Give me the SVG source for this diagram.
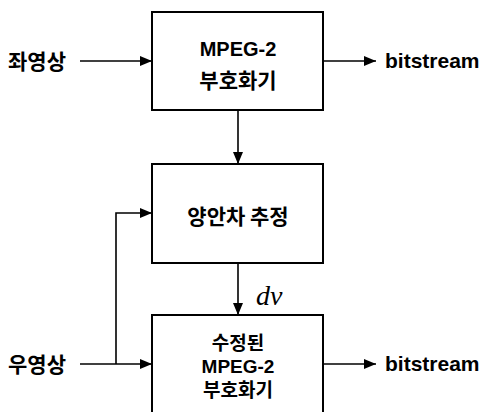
<svg xmlns="http://www.w3.org/2000/svg" width="480" height="412" viewBox="0 0 480 412">
  <defs>
    <marker id="arrow" viewBox="0 0 12 10" refX="12" refY="5" markerWidth="12" markerHeight="10" markerUnits="userSpaceOnUse" orient="auto">
      <path d="M0,0 L12,5 L0,10 Z" fill="#000"/>
    </marker>
    <style>
      .box { fill: #fff; stroke: #000; stroke-width: 2; }
      .line { fill: none; stroke: #000; stroke-width: 1.6; }
      .ko { font-family: "Noto Sans CJK KR", "Noto Sans", sans-serif; font-weight: 700; font-size: 21px; fill: #000; }
      .en { font-family: "Liberation Sans", Arial, sans-serif; font-weight: 700; font-size: 20px; fill: #000; }
      .out { font-size: 21px; }
      .tight { font-size: 19px; }
      .math { font-family: "Liberation Serif", "Times New Roman", serif; font-style: italic; font-size: 28px; fill: #000; }
    </style>
  </defs>

  <rect width="480" height="412" fill="#fff"/>

  <!-- connectors -->
  <g id="connectors">
    <line class="line" x1="80" y1="61" x2="152" y2="61" marker-end="url(#arrow)"/>
    <line class="line" x1="323" y1="61" x2="376" y2="61" marker-end="url(#arrow)"/>
    <line class="line" x1="238" y1="110" x2="238" y2="164" marker-end="url(#arrow)"/>
    <polyline class="line" points="116,364 116,213 152,213" marker-end="url(#arrow)"/>
    <line class="line" x1="238" y1="263" x2="238" y2="315" marker-end="url(#arrow)"/>
    <line class="line" x1="80" y1="364" x2="152" y2="364" marker-end="url(#arrow)"/>
    <line class="line" x1="323" y1="364" x2="376" y2="364" marker-end="url(#arrow)"/>
  </g>

  <!-- inputs and outputs -->
  <g id="left-image">
    <text class="ko" x="8" y="69">좌영상</text>
  </g>
  <g id="right-image">
    <text class="ko" x="8" y="372">우영상</text>
  </g>
  <g id="bitstream-1">
    <text class="en out" x="385" y="68">bitstream</text>
  </g>
  <g id="bitstream-2">
    <text class="en out" x="385" y="371">bitstream</text>
  </g>
  <g id="dv-label">
    <text class="math" x="256" y="305">dv</text>
  </g>

  <!-- MPEG-2 encoder -->
  <g id="encoder">
    <rect class="box" x="152" y="12" width="171" height="98"/>
    <text class="en" x="238" y="56" text-anchor="middle">MPEG-2</text>
    <text class="ko" x="238" y="88" text-anchor="middle" font-weight="400">부호화기</text>
  </g>

  <!-- disparity estimation -->
  <g id="disparity">
    <rect class="box" x="152" y="164" width="171" height="99"/>
    <text class="ko" x="238" y="224" text-anchor="middle" font-size="22">양안차 추정</text>
  </g>

  <!-- modified MPEG-2 encoder -->
  <g id="modified-encoder">
    <rect class="box" x="152" y="315" width="171" height="110"/>
    <text class="ko tight" x="238" y="350" text-anchor="middle">수정된</text>
    <text class="en tight" x="238" y="373" text-anchor="middle">MPEG-2</text>
    <text class="ko tight" x="238" y="397" text-anchor="middle">부호화기</text>
  </g>
</svg>
